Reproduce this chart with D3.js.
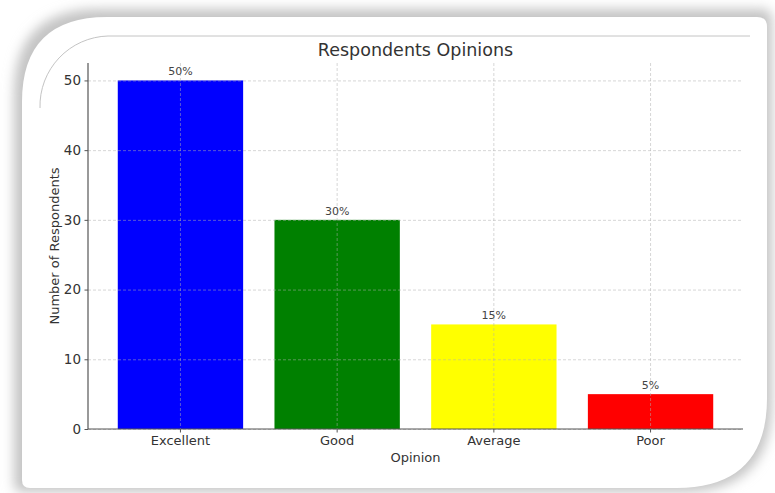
<!DOCTYPE html>
<html>
<head>
<meta charset="utf-8">
<script src="https://cdn.jsdelivr.net/npm/d3@7"></script>
<style>
  body { margin: 0; background: #fff; }
  text { font-family: "DejaVu Sans", sans-serif; fill: #333; }
</style>
</head>
<body>
<div id="chart"></div>
<script>
var categories = ["Excellent", "Good", "Average", "Poor"];
var respondents = [50, 30, 15, 5];
var percentLabels = ["50%", "30%", "15%", "5%"];
var barColors = ["#0000ff", "#008000", "#ffff00", "#ff0000"];
var yTicks = [0, 10, 20, 30, 40, 50];

var w = 775, h = 493;

var svg = d3.select("#chart")
  .append("svg")
  .attr("width", w)
  .attr("height", h);

// card frame with soft shadow
var defs = svg.append("defs");
var blur = defs.append("filter")
  .attr("id", "shadow")
  .attr("x", "-10%").attr("y", "-10%")
  .attr("width", "120%").attr("height", "120%");
blur.append("feGaussianBlur").attr("stdDeviation", 6);

function cardPath(x0, y0, x1, y1) {
  var tl = 85, tr = 10, br = 90, bl = 8;
  return "M" + (x0 + tl) + "," + y0 +
    " L" + (x1 - tr) + "," + y0 +
    " Q" + x1 + "," + y0 + " " + x1 + "," + (y0 + tr) +
    " L" + x1 + "," + (y1 - br) +
    " Q" + x1 + "," + y1 + " " + (x1 - br) + "," + y1 +
    " L" + (x0 + bl) + "," + y1 +
    " Q" + x0 + "," + y1 + " " + x0 + "," + (y1 - bl) +
    " L" + x0 + "," + (y0 + tl) +
    " Q" + x0 + "," + y0 + " " + (x0 + tl) + "," + y0 + " Z";
}

svg.append("path")
  .attr("d", cardPath(14, 9, 772, 492))
  .attr("fill", "#c4c4c4")
  .attr("filter", "url(#shadow)");

svg.append("path")
  .attr("d", cardPath(22, 17, 767, 488))
  .attr("fill", "#fff");

// decorative line + arc in the top-left
svg.append("path")
  .attr("d", "M750,36 L108,36 A70,70 0 0 0 40,108")
  .attr("fill", "none")
  .attr("stroke", "#c4c4c4")
  .attr("stroke-width", 1);

var margin = {left: 88, right: 32, top: 63, bottom: 64};
var plotW = w - margin.left - margin.right;
var plotH = h - margin.top - margin.bottom;

var g = svg.append("g")
  .attr("transform", "translate(" + margin.left + "," + margin.top + ")");

var x = d3.scaleBand()
  .domain(categories)
  .range([0, plotW])
  .paddingInner(0.2)
  .paddingOuter(0.19);

var y = d3.scaleLinear()
  .domain([0, 52.5])
  .range([plotH, 0]);

var data = categories.map(function(c, i) {
  return {cat: c, value: respondents[i], label: percentLabels[i], color: barColors[i]};
});

g.selectAll(".bar")
  .data(data)
  .enter()
  .append("rect")
  .attr("class", "bar")
  .attr("x", function(d) { return x(d.cat); })
  .attr("y", function(d) { return y(d.value); })
  .attr("width", x.bandwidth())
  .attr("height", function(d) { return plotH - y(d.value); })
  .attr("fill", function(d) { return d.color; });

// grid over the bars, like the original
var yGrid = g.append("g")
  .call(d3.axisLeft(y).tickValues(yTicks).tickSize(-plotW).tickFormat(""));
var xGrid = g.append("g")
  .call(d3.axisBottom(x).tickSize(plotH).tickFormat(""));
[yGrid, xGrid].forEach(function(gr) {
  gr.select(".domain").remove();
  gr.selectAll("line")
    .attr("stroke", "#b0b0b0")
    .attr("stroke-opacity", 0.5)
    .attr("stroke-dasharray", "3,2");
});

g.selectAll(".pct")
  .data(data)
  .enter()
  .append("text")
  .attr("class", "pct")
  .attr("x", function(d) { return x(d.cat) + x.bandwidth() / 2; })
  .attr("y", function(d) { return y(d.value) - 5; })
  .attr("text-anchor", "middle")
  .style("font-size", "11px")
  .style("fill", "#444")
  .text(function(d) { return d.label; });

var yAxis = g.append("g")
  .call(d3.axisLeft(y).tickValues(yTicks).tickSize(3.5).tickPadding(3.5));
var xAxis = g.append("g")
  .attr("transform", "translate(0," + plotH + ")")
  .call(d3.axisBottom(x).tickSize(3.5).tickPadding(3.5));

[yAxis, xAxis].forEach(function(ax) {
  ax.select(".domain").attr("stroke", "#555").attr("stroke-width", 1.2);
  ax.selectAll(".tick line").attr("stroke", "#555");
  ax.selectAll(".tick text")
    .style("font-size", "13px")
    .style("font-family", "DejaVu Sans, sans-serif")
    .attr("fill", "#333");
});
yAxis.selectAll(".tick text").style("font-size", "13.5px");
// matplotlib style: plain L-shaped spines
yAxis.select(".domain").attr("d", "M0," + plotH + "V0");
xAxis.select(".domain").attr("d", "M0,0H" + plotW);

svg.append("text")
  .attr("x", margin.left + plotW / 2)
  .attr("y", 56)
  .attr("text-anchor", "middle")
  .style("font-size", "17.5px")
  .text("Respondents Opinions");

svg.append("text")
  .attr("x", margin.left + plotW / 2)
  .attr("y", 462)
  .attr("text-anchor", "middle")
  .style("font-size", "13px")
  .text("Opinion");

svg.append("text")
  .attr("transform", "translate(59," + (margin.top + plotH / 2) + ") rotate(-90)")
  .attr("text-anchor", "middle")
  .style("font-size", "13px")
  .text("Number of Respondents");
</script>
</body>
</html>
